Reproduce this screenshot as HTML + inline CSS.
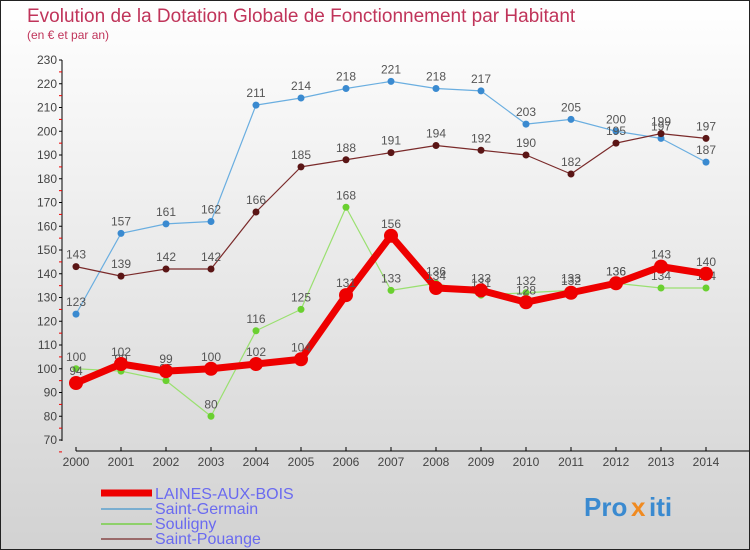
<!DOCTYPE html>
<html><head><meta charset="utf-8"><style>
body{margin:0}
#c{width:750px;height:550px;position:relative;box-sizing:border-box;border:1px solid #222;background:linear-gradient(#ffffff,#d2d2d2);font-family:"Liberation Sans",sans-serif;overflow:hidden}
</style></head><body>
<div id="c">
<svg id="s" width="748" height="548" style="position:absolute;left:0;top:0">
<text x="26" y="21" font-size="19" fill="#c0345a">Evolution de la Dotation Globale de Fonctionnement par Habitant</text>
<text x="26" y="38" font-size="12" fill="#c0345a">(en € et par an)</text>
<g id="ax"></g><g id="series"></g>
<g>
<line x1="100" y1="492" x2="151" y2="492" stroke="#ee0000" stroke-width="7"/>
<text x="154" y="498" font-size="16" fill="#6a6af0">LAINES-AUX-BOIS</text>
<line x1="100" y1="508" x2="151" y2="508" stroke="#7aaed0" stroke-width="2"/>
<text x="154" y="513" font-size="16" fill="#6a6af0">Saint-Germain</text>
<line x1="100" y1="523" x2="151" y2="523" stroke="#8ed06a" stroke-width="2"/>
<text x="154" y="528" font-size="16" fill="#6a6af0">Souligny</text>
<line x1="100" y1="538" x2="151" y2="538" stroke="#9a6a6a" stroke-width="2"/>
<text x="154" y="543" font-size="16" fill="#6a6af0">Saint-Pouange</text>
</g>
<g font-size="26" font-weight="bold">
<text x="583" y="515" fill="#3a8ad0">Pro</text><text x="630" y="515" fill="#f08a20">x</text><text x="648" y="515" fill="#3a8ad0">iti</text>
</g>
</svg>
</div>
<script>
const years=["2000","2001","2002","2003","2004","2005","2006","2007","2008","2009","2010","2011","2012","2013","2014"];
const yTicks=[70,80,90,100,110,120,130,140,150,160,170,180,190,200,210,220,230];
const laines=[94,102,99,100,102,104,131,156,134,133,128,132,136,143,140];
const saintGermain=[123,157,161,162,211,214,218,221,218,217,203,205,200,197,187];
const souligny=[100,99,95,80,116,125,168,133,136,131,132,133,136,134,134];
const saintPouange=[143,139,142,142,166,185,188,191,194,192,190,182,195,199,197];
const NS="http://www.w3.org/2000/svg";
const xs=i=>75+i*(630/14);
const ys=v=>59+(230-v)*(380/160);
function mk(t,a,p){const e=document.createElementNS(NS,t);for(const k in a)e.setAttribute(k,a[k]);p.appendChild(e);return e;}
const ax=document.getElementById('ax');
let l=mk('line',{x1:61,y1:59,x2:61,y2:440,stroke:'#000'},ax);


yTicks.forEach(v=>{
 const y=ys(v);
 mk('line',{x1:58,y1:y,x2:61,y2:y,stroke:'#000'},ax);
 mk('line',{x1:58,y1:y+11.9,x2:61,y2:y+11.9,stroke:'#e00'},ax);
 const t=mk('text',{x:56,y:y+4,'font-size':12,fill:'#444','text-anchor':'end'},ax);
 t.textContent=v;
 
 
});
let xl=mk('line',{x1:75,y1:450,x2:748,y2:450,stroke:'#000'},ax);


years.forEach((yr,i)=>{
 mk('line',{x1:xs(i),y1:446,x2:xs(i),y2:450,stroke:'#000'},ax);
 const t=mk('text',{x:xs(i),y:465,'font-size':12,fill:'#444','text-anchor':'middle'},ax);
 t.textContent=yr;
 
 
});
const sg=document.getElementById('series');
function draw(data,name,color,fill,w,r){
 const g=mk('g',{},sg);
 
 
 mk('polyline',{points:data.map((v,i)=>xs(i)+','+ys(v)).join(' '),fill:'none',stroke:color,'stroke-width':w,'stroke-linejoin':'round'},g);
 data.forEach((v,i)=>{
  const c=mk('circle',{cx:xs(i),cy:ys(v),r:r,fill:fill},g);
  
  
  const t=mk('text',{x:xs(i),y:ys(v)-8,'font-size':12,fill:'#555','text-anchor':'middle'},g);
  t.textContent=v;
  
  
 });
}
draw(saintGermain,'saint-germain','#6aaee0','#3a8ad0',1.2,3.5);
draw(saintPouange,'saint-pouange','#7a2a2a','#5a1515',1.2,3.5);
draw(souligny,'souligny','#9ae070','#6ad030',1.2,3.5);
draw(laines,'laines-aux-bois','#ee0000','#ee0000',7,7);
</script>
</body></html>
